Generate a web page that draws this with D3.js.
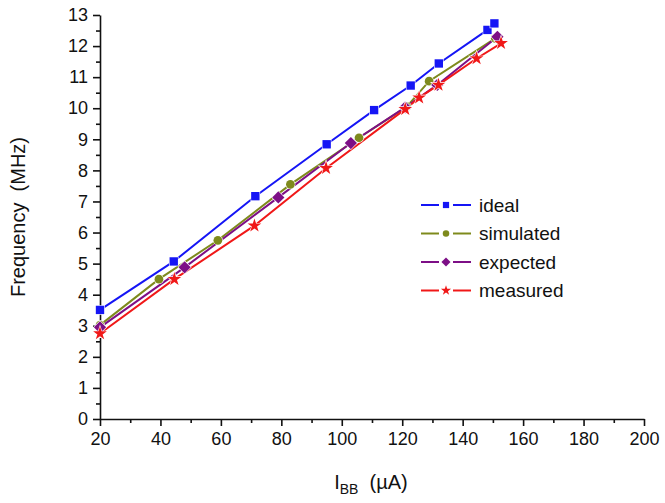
<!DOCTYPE html>
<html><head><meta charset="utf-8">
<script src="https://cdn.jsdelivr.net/npm/d3@7"></script>
<style>body{margin:0;background:#fff}svg{display:block;font-family:"Liberation Sans",Arial,sans-serif}</style>
</head><body><svg id="c" width="665" height="503"></svg>
<script>
const xTicks = [20,40,60,80,100,120,140,160,180,200];
const yTicks = [0,1,2,3,4,5,6,7,8,9,10,11,12,13];
const seriesNames = ["ideal","simulated","expected","measured"];
const seriesColors = ["#1515f5","#7e8a1c","#7d0f86","#f01818"];
const idealX = [20,44.4,71.4,95,110.7,122.8,132.1,148.2,150.5];
const idealY = [3.51,5.07,7.17,8.84,9.94,10.73,11.44,12.52,12.73];
const simX = [20,39.5,59,83,105.7,121.5,128.9,150.8];
const simY = [3.02,4.5,5.75,7.55,9.05,10.05,10.87,12.25];
const expX = [20,48,79,103,121,131.6,151.5];
const expY = [2.95,4.88,7.13,8.88,10.03,10.75,12.3];
const measX = [20,44.6,71.1,94.8,121,125.6,132,144.6,152.7];
const measY = [2.75,4.5,6.22,8.07,9.97,10.34,10.75,11.6,12.09];
const markers = [d3.symbolSquare, d3.symbolCircle, d3.symbolSquare, d3.symbolStar];
const markerSizes = [70, 60, 75, 58];
const markerRot = [0, 0, 45, 0];

const data = [
  idealX.map((x,i)=>({x, y: idealY[i]})),
  simX.map((x,i)=>({x, y: simY[i]})),
  expX.map((x,i)=>({x, y: expY[i]})),
  measX.map((x,i)=>({x, y: measY[i]}))
];

const svg = d3.select("#c");
const x = d3.scaleLinear().domain([20,200]).range([100,644]);
const y = d3.scaleLinear().domain([0,13]).range([419,15]);

// minor ticks
const xMinor = d3.range(30,200,20);
const yMinor = d3.range(0.5,13,1);
svg.append("g").attr("transform","translate(0,419)")
  .call(d3.axisBottom(x).tickValues(xMinor).tickSize(4).tickFormat(""))
  .call(g=>g.select(".domain").remove());
svg.append("g").attr("transform","translate(100,0)")
  .call(d3.axisLeft(y).tickValues(yMinor).tickSize(4).tickFormat(""))
  .call(g=>g.select(".domain").remove());

const xa = svg.append("g").attr("transform","translate(0,419)")
  .call(d3.axisBottom(x).tickValues(xTicks).tickSize(7).tickSizeOuter(0).tickPadding(6));
const ya = svg.append("g").attr("transform","translate(100,0)")
  .call(d3.axisLeft(y).tickValues(yTicks).tickSize(7).tickSizeOuter(0).tickPadding(5));
[xa,ya].forEach(g=>{
  g.selectAll("text").attr("font-size",18).attr("fill","#111").style("font-family","Liberation Sans, Arial, sans-serif");
  g.selectAll("line,path").attr("stroke","#111").attr("stroke-width",1.6);
});
svg.selectAll("g line").attr("stroke","#111").attr("stroke-width",1.6);

// lines
const line = d3.line().x(d=>x(d.x)).y(d=>y(d.y));
data.forEach((s,i)=>{
  svg.append("path").datum(s).attr("d",line).attr("fill","none")
    .attr("stroke",seriesColors[i]).attr("stroke-width",2);
});
data.forEach((s,i)=>{
  svg.append("g").selectAll("path").data(s).join("path")
    .attr("transform",d=>`translate(${x(d.x)},${y(d.y)}) rotate(${markerRot[i]})`)
    .attr("d",d3.symbol(markers[i], markerSizes[i]))
    .attr("fill",seriesColors[i]).attr("stroke","#fff").attr("stroke-width",1.2)
    .attr("paint-order","stroke");
});

// legend
const leg = svg.append("g");
seriesNames.forEach((n,i)=>{
  const ly = 205 + i*28.5;
  leg.append("line").attr("x1",421).attr("x2",439).attr("y1",ly).attr("y2",ly)
    .attr("stroke",seriesColors[i]).attr("stroke-width",2);
  leg.append("line").attr("x1",453).attr("x2",471).attr("y1",ly).attr("y2",ly)
    .attr("stroke",seriesColors[i]).attr("stroke-width",2);
  leg.append("path").attr("transform",`translate(446,${ly}) rotate(${markerRot[i]})`)
    .attr("d",d3.symbol(markers[i], markerSizes[i]*0.55)).attr("fill",seriesColors[i]);
  leg.append("text").attr("x",479).attr("y",ly+6.5).attr("font-size",19).attr("fill","#111").text(n);
});

// axis titles
svg.append("text").attr("transform","translate(25,217) rotate(-90)")
  .attr("text-anchor","middle").attr("font-size",20).attr("fill","#111")
  .style("white-space","pre").text("Frequency  (MHz)");
const xt = svg.append("text").attr("x",371).attr("y",489).attr("text-anchor","middle")
  .attr("font-size",20).attr("fill","#111").style("white-space","pre");
xt.append("tspan").text("I");
xt.append("tspan").attr("font-size",14).attr("dy",5).text("BB");
xt.append("tspan").attr("dy",-5).text("  (\u00b5A)");
</script></body></html>
